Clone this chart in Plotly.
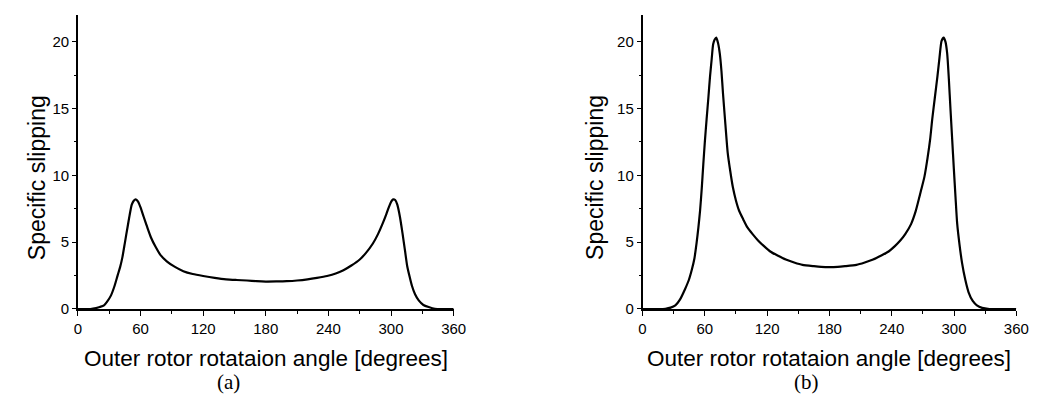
import plotly.graph_objects as go

# Panel (a) data
angle_a = [0, 12, 17.4, 21, 25, 28, 31.6, 35, 38, 40.5, 42.7, 45, 47.5, 49.5, 51.6, 53.5, 55.4, 57.5, 60, 63, 66.5,
           70, 74.4, 79, 85.4, 93, 101, 110, 120, 131, 142, 152, 162, 171, 180, 190, 200, 210, 220, 229, 238.7,
           247, 254.4, 262, 270, 276, 282.6, 287.5, 292, 295.5, 298.3, 300.3, 302, 304, 306, 308.5, 311, 313.3,
           315.5, 318, 320, 323, 326.5, 331, 336, 342, 350, 360]
slip_a = [0, 0, 0.07, 0.15, 0.27, 0.55, 1.0, 1.7, 2.5, 3.15, 3.9, 4.95, 6.1, 7.0, 7.8, 8.1, 8.2, 8.05, 7.6, 6.9, 6.1,
          5.35, 4.65, 4.05, 3.55, 3.15, 2.83, 2.62, 2.47, 2.33, 2.22, 2.17, 2.13, 2.08, 2.05, 2.06, 2.08, 2.13,
          2.22, 2.33, 2.47, 2.65, 2.9, 3.25, 3.7, 4.2, 4.9, 5.6, 6.4, 7.1, 7.7, 8.05, 8.2, 8.15, 7.8, 6.9, 5.65,
          4.4, 3.2, 2.35, 1.74, 1.1, 0.64, 0.3, 0.15, 0.02, 0, 0]

# Panel (b) data
angle_b = [0, 15, 22, 27, 31.6, 36, 41, 44.5, 47.5, 50, 52, 53.8, 55.4, 57, 58.5, 60, 61.7, 63.4, 65, 66.6, 68, 69.5,
           71, 72.7, 74.4, 76, 77.5, 79.8, 82, 84.5, 87, 90, 93, 97, 101, 106, 111, 117, 123, 130, 138, 146, 154,
           165, 172, 180, 188, 195, 206, 214, 222, 230, 237, 243, 248, 253, 258.6, 263, 268, 271.5, 274.5, 277,
           279, 281.5, 284, 286, 288, 290, 291.7, 293.4, 295, 296.6, 298.2, 299.8, 301.4, 303, 305.3, 307.7, 310.8,
           314, 318, 322, 327, 334, 345, 360]
slip_b = [0, 0, 0.02, 0.1, 0.27, 0.7, 1.5, 2.15, 2.95, 3.8, 4.9, 6.1, 7.35, 9.0, 10.8, 12.5, 14.2, 15.8, 17.4, 18.7,
          19.8, 20.15, 20.3, 19.9, 19.1, 17.8, 16.1, 13.8, 11.7, 10.3, 9.1, 8.1, 7.35, 6.7, 6.1, 5.6, 5.15, 4.7, 4.3,
          4.0, 3.7, 3.48, 3.3, 3.2, 3.15, 3.13, 3.15, 3.2, 3.3, 3.48, 3.7, 4.0, 4.3, 4.7, 5.1, 5.6, 6.35, 7.3, 8.8,
          9.9, 11.3, 12.7, 14.2, 15.8, 17.4, 18.8, 20.05, 20.3, 20.0, 19.1, 17.2, 14.9, 12.7, 10.5, 8.4, 6.4, 4.8,
          3.45, 2.2, 1.25, 0.6, 0.27, 0.08, 0, 0, 0]

x_ticks = [0, 60, 120, 180, 240, 300, 360]
y_ticks = [0, 5, 10, 15, 20]
x_title = "Outer rotor rotataion angle [degrees]"
y_title = "Specific slipping"
captions = ["(a)", "(b)"]

W, H = 1042, 409
fig = go.Figure()
fig.add_trace(go.Scatter(x=angle_a, y=slip_a, mode="lines", line=dict(color="black", width=2.2, shape="spline",
                                                                      smoothing=0.6),
                         xaxis="x", yaxis="y", showlegend=False))
fig.add_trace(go.Scatter(x=angle_b, y=slip_b, mode="lines", line=dict(color="black", width=2.2, shape="spline",
                                                                      smoothing=0.6),
                         xaxis="x2", yaxis="y2", showlegend=False))

ydom = [(H - 307) / H, (H - 7) / H]
tickfont = dict(family="Liberation Sans, Arial, sans-serif", size=15, color="black")


def xax(dom, anchor):
    return dict(domain=dom, anchor=anchor, range=[0, 360], tickvals=x_ticks, ticktext=[str(v) for v in x_ticks],
                showline=True, linecolor="black", linewidth=1.5, ticks="outside", ticklen=5, tickwidth=1,
                tickcolor="black", showgrid=False, zeroline=False, tickfont=tickfont,
                minor=dict(dtick=30, tick0=0, ticks="outside", ticklen=3, tickcolor="black", showgrid=False))


def yax(anchor):
    return dict(domain=ydom, anchor=anchor, range=[0, 22], tickvals=y_ticks, showline=True, linecolor="black",
                linewidth=1.5, ticks="outside", ticklen=4, tickwidth=1, tickcolor="black", showgrid=False,
                zeroline=False, tickfont=tickfont,
                minor=dict(dtick=2.5, tick0=0, ticks="outside", ticklen=2, tickcolor="black", showgrid=False))


fig.update_layout(
    width=W, height=H, margin=dict(l=0, r=0, t=0, b=0),
    paper_bgcolor="white", plot_bgcolor="white",
    xaxis=xax([67 / W, 449 / W], "y"), yaxis=yax("x"),
    xaxis2=xax([641 / W, 1021 / W], "y2"), yaxis2=yax("x2"),
)

xtitlefont = dict(family="Liberation Sans, Arial, sans-serif", size=22.5, color="black")
ytitlefont = dict(family="Liberation Sans, Arial, sans-serif", size=23, color="black")
capfont = dict(family="Liberation Serif, DejaVu Serif, serif", size=21, color="black")
for cx, yx, cap_x, cap in [(258, 25, 220, captions[0]), (831, 592, 808, captions[1])]:
    fig.add_annotation(x=cx / W, y=(H - 358) / H, xref="paper", yref="paper", text=x_title, showarrow=False,
                       font=xtitlefont, xanchor="center", yanchor="middle")
    fig.add_annotation(x=yx / W, y=(H - 173) / H, xref="paper", yref="paper", text=y_title, showarrow=False,
                       font=ytitlefont, textangle=-90, xanchor="center", yanchor="middle")
    fig.add_annotation(x=cap_x / W, y=(H - 381) / H, xref="paper", yref="paper", text=cap, showarrow=False,
                       font=capfont, xanchor="center", yanchor="middle")

fig.write_html("out.html")
